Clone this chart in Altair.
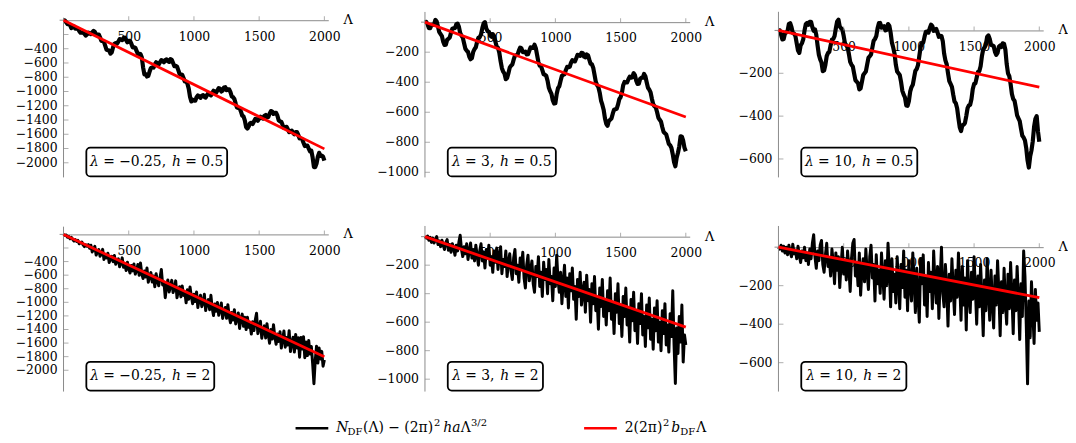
import altair as alt
import pandas as pd

# ---------------- data ----------------
X_TOP = list(range(0, 2001, 10))
X_BOT = list(range(0, 2001, 10))

# lambda=-0.25, h=0.5
Y1 = [0, -5, -30, -55, -55, -70, -110, -85, -90, -120,
      -120, -120, -150, -175, -175, -170, -190, -215, -200, -175,
      -185, -195, -170, -150, -165, -200, -200, -200, -240, -290,
      -290, -305, -360, -415, -420, -425, -470, -450, -380, -330,
      -320, -330, -300, -265, -270, -280, -250, -245, -280, -310,
      -290, -290, -330, -380, -380, -385, -430, -475, -470, -475,
      -520, -660, -760, -755, -790, -780, -720, -670, -660, -665,
      -620, -590, -600, -620, -590, -560, -570, -590, -560, -550,
      -575, -585, -545, -555, -600, -645, -640, -650, -700, -755,
      -760, -765, -810, -860, -860, -890, -960, -1075, -1140, -1115,
      -1130, -1130, -1080, -1055, -1070, -1090, -1060, -1050, -1075, -1085,
      -1050, -1025, -1040, -1055, -1020, -990, -1000, -1015, -985, -952,
      -960, -1000, -990, -945, -940, -980, -970, -970, -1010, -1070,
      -1080, -1105, -1170, -1225, -1230, -1235, -1280, -1340, -1350, -1405,
      -1500, -1520, -1490, -1445, -1440, -1455, -1420, -1385, -1390, -1410,
      -1380, -1355, -1370, -1380, -1340, -1330, -1360, -1360, -1310, -1275,
      -1280, -1315, -1300, -1300, -1340, -1405, -1420, -1425, -1470, -1510,
      -1500, -1495, -1530, -1570, -1560, -1550, -1580, -1600, -1570, -1570,
      -1610, -1660, -1660, -1670, -1720, -1765, -1760, -1760, -1800, -1840,
      -1830, -1925, -2060, -2060, -2010, -1915, -1860, -1905, -1900, -1915,
      -1970]
# lambda=3, h=0.5
Y2 = [0, 2, -15, -40, -40, -18, -20, -14, 15, 4,
      -30, -67, -80, -93, -130, -152, -150, -118, -110, -102,
      -70, -43, -40, -40, -15, -10, -30, -72, -90, -103,
      -140, -177, -190, -198, -230, -247, -240, -198, -180, -167,
      -130, -103, -100, -82, -40, -8, 0, -42, -60, -63,
      -90, -97, -80, -93, -130, -162, -170, -203, -260, -307,
      -330, -343, -380, -372, -340, -303, -290, -282, -250, -223,
      -220, -217, -190, -170, -175, -200, -200, -196, -215, -214,
      -190, -168, -170, -172, -150, -173, -220, -267, -290, -293,
      -320, -347, -350, -358, -390, -437, -460, -478, -520, -542,
      -540, -478, -440, -427, -390, -358, -350, -347, -320, -298,
      -300, -297, -270, -253, -260, -262, -240, -218, -220, -224,
      -205, -206, -230, -234, -215, -220, -250, -277, -280, -303,
      -350, -397, -420, -433, -470, -522, -550, -583, -640, -677,
      -690, -658, -650, -642, -610, -583, -580, -577, -550, -513,
      -500, -472, -420, -398, -400, -402, -380, -363, -370, -367,
      -340, -353, -390, -412, -410, -378, -370, -370, -345, -360,
      -400, -437, -450, -468, -510, -547, -560, -568, -600, -637,
      -650, -663, -700, -732, -740, -748, -780, -812, -820, -838,
      -880, -932, -960, -903, -870, -827, -760, -763, -790, -837,
      -860]
# lambda=10, h=0.5
Y3 = [0, 0, -20, -42, -40, -13, -10, -2, 30, 34,
      15, -12, -15, -26, -60, -94, -105, -70, -60, -42,
      0, 30, 35, 26, 40, 40, 15, -2, 5, -20,
      -70, -114, -135, -150, -190, -187, -160, -120, -105, -100,
      -70, -43, -40, -27, 10, 42, 50, 18, 10, 4,
      -25, -60, -70, -78, -110, -147, -160, -168, -200, -232,
      -240, -246, -275, -270, -240, -208, -200, -192, -160, -128,
      -120, -112, -80, -48, -40, -27, 10, 34, 35, 13,
      15, 20, 0, 3, 30, 22, -10, -57, -80, -108,
      -160, -192, -200, -208, -240, -282, -300, -313, -350, -352,
      -330, -286, -265, -254, -220, -188, -180, -162, -120, -78,
      -60, -57, -30, -6, -5, -10, 10, 27, 20, -2,
      0, 7, -10, -30, -25, -26, -50, -107, -140, -158,
      -200, -237, -250, -263, -300, -332, -340, -363, -410, -452,
      -470, -443, -440, -432, -400, -363, -350, -347, -320, -273,
      -250, -247, -220, -193, -190, -167, -120, -88, -80, -67,
      -30, -23, -40, -67, -70, -73, -100, -114, -105, -76,
      -70, -77, -60, -63, -90, -157, -200, -213, -250, -297,
      -320, -328, -360, -397, -410, -423, -460, -492, -500, -513,
      -550, -607, -640, -588, -560, -517, -450, -413, -400, -472,
      -520]
# lambda=-0.25, h=2
Y4 = [0, -14, -8, -42, -31, -65, -44, -73, -97, -76,
      -105, -89, -138, -122, -111, -155, -179, -153, -172, -151,
      -205, -159, -258, -217, -176, -305, -254, -223, -322, -291,
      -220, -369, -298, -347, -276, -415, -364, -323, -402, -311,
      -440, -389, -358, -477, -426, -345, -484, -433, -532, -411,
      -500, -569, -458, -537, -436, -585, -534, -443, -602, -421,
      -580, -649, -538, -627, -496, -705, -614, -563, -702, -611,
      -770, -579, -688, -757, -636, -515, -744, -703, -932, -761,
      -670, -849, -758, -677, -856, -795, -684, -933, -832, -771,
      -920, -759, -898, -847, -1006, -815, -954, -773, -912, -1021,
      -880, -989, -848, -1077, -956, -895, -1064, -1003, -882, -1121,
      -1000, -959, -1108, -897, -1086, -1195, -1024, -1133, -1002, -1191,
      -1110, -1009, -1238, -1127, -1076, -1235, -1034, -1203, -1302, -1151,
      -1260, -1109, -1318, -1227, -1156, -1385, -1234, -1173, -1352, -1221,
      -1400, -1219, -1368, -1327, -1466, -1285, -1414, -1263, -1162, -1461,
      -1370, -1279, -1528, -1417, -1346, -1525, -1314, -1473, -1602, -1401,
      -1540, -1329, -1508, -1617, -1466, -1575, -1434, -1673, -1542, -1421,
      -1660, -1519, -1628, -1417, -1726, -1595, -1514, -1733, -1472, -1671,
      -1520, -1809, -1518, -1687, -1506, -1815, -1584, -1783, -1562, -1761,
      -1650, -1899, -2198, -1857, -1646, -1895, -1674, -1833, -1722, -1941,
      -1850]
# lambda=3, h=2
Y5 = [0, -10, 5, -25, -5, -40, -10, -45, -20, 0,
      -55, -30, -70, -25, -60, -90, -40, -20, -95, -55,
      -110, -50, -80, -130, -60, -100, -40, 10, -90, -140,
      -70, -120, -50, -160, -100, -45, -150, -90, -170, -60,
      -130, -200, -100, -50, -170, -110, -220, -90, -150, -60,
      -200, -140, -250, -100, -180, -80, -230, -130, -70, -260,
      -160, -210, -100, -280, -180, -120, -240, -300, -150, -90,
      -260, -200, -320, -150, -220, -110, -290, -360, -200, -130,
      -310, -240, -170, -330, -390, -210, -280, -140, -350, -250,
      -420, -180, -300, -230, -400, -160, -330, -280, -450, -220,
      -350, -130, -300, -390, -250, -470, -320, -200, -420, -290,
      -500, -260, -380, -220, -440, -350, -580, -300, -420, -250,
      -480, -390, -320, -530, -270, -450, -370, -600, -330, -470,
      -280, -520, -430, -650, -360, -490, -300, -560, -440, -620,
      -380, -520, -290, -580, -460, -680, -400, -530, -330, -610,
      -480, -700, -420, -560, -360, -620, -510, -740, -440, -590,
      -390, -660, -520, -750, -470, -610, -400, -690, -560, -770,
      -480, -640, -430, -720, -580, -790, -500, -660, -450, -740,
      -600, -800, -520, -680, -470, -760, -620, -810, -540, -700,
      -380, -760, -1030, -640, -820, -560, -740, -480, -880, -690,
      -760]
# lambda=10, h=2
Y6 = [0, -10, 10, -20, 5, -30, 0, -40, 10, -25,
      -50, 15, -35, -15, -60, 5, -45, -80, -20, -55,
      0, -70, -30, -90, -10, -60, 20, 65, -50, -110,
      -20, -70, 10, 35, -90, -130, -40, 20, -100, -60,
      -150, -10, -80, -190, -30, -120, -50, -210, -90, 0,
      -140, -70, -170, -20, -110, -230, -60, 20, 40, -150,
      -80, -200, -30, -250, -120, -60, -180, -10, -130, -220,
      -50, 10, -160, -90, -280, -40, -190, -120, -240, -30,
      -150, -270, -70, -200, 20, -110, -310, -60, -230, -140,
      -290, -50, -180, -320, -90, -210, -20, -260, -120, -330,
      -70, -200, -280, -30, -170, -340, -110, -250, -390, -60,
      -190, -40, -300, -150, -360, -80, -230, -130, -320, -20,
      -180, -290, -100, -370, -160, 0, -240, -310, -90, -200,
      -410, -140, -280, -60, -220, -350, -120, -260, -30, -190,
      -380, -100, -300, -160, -430, -70, -250, -340, -130, -270,
      -50, -220, -400, -150, -310, -90, -260, -460, -170, -330,
      -60, -240, -380, -120, -280, -420, -150, -300, -70, -230,
      -460, -180, -340, -110, -290, -400, -140, -320, -80, -250,
      -450, -170, -330, -100, -270, -480, -190, -360, -20, -150,
      -400, -710, -280, -470, -180, -330, -500, -220, -380, -290,
      -440]

RED_X = [0, 2000]
RED_END = [-1805, -632, -265, -1803, -635, -262]

LAMBDAS = ["−0.25", "3", "10", "−0.25", "3", "10"]
HS = ["0.5", "0.5", "0.5", "2", "2", "2"]

X_TICKS = [500, 1000, 1500, 2000]
TICKS_A = [-200, -400, -600, -800, -1000, -1200, -1400, -1600, -1800, -2000]
LABELS_A = [-400, -600, -800, -1000, -1200, -1400, -1600, -1800, -2000]
TICKS_B = [-200, -400, -600, -800, -1000]
TICKS_C = [-200, -400, -600]

Y_DOMAINS = [[-2205, 118], [-1034, 69], [-686, 87],
             [-2314, 124], [-1087, 75], [-750, 110]]
Y_AXIS_TOP = [35, 68, 87, 114, 75, 110]

# ---------------- style / layout ----------------
FONT = "DejaVu Serif"
GRAY = "#8a8a8a"
W, H = 267, 167
X_DOMAIN = [0, 2030]
X_AXIS_START = -30
BOX_X = 23
BOX_W = [142, 109, 117, 129, 96, 106]
BOX_FS = 14
TICK_FS = 12.5
# approximate advance widths (em) of DejaVu Serif glyphs used in the boxes
EM = {" ": 0.318, "=": 0.838, "−": 0.838, ".": 0.318, ",": 0.318,
      "λ": 0.62, "h": 0.644}


def tw(s):
    return sum(EM.get(c, 0.636) for c in s) * BOX_FS


def make_panel(i, xs, ys, yticks, ylabels, sw):
    d0, d1 = Y_DOMAINS[i]
    y0px = H * d1 / (d1 - d0)
    xsc = alt.Scale(domain=X_DOMAIN, nice=False, zero=False)
    ysc = alt.Scale(domain=[d0, d1], nice=False, zero=False)

    xaxis = alt.Axis(orient="bottom", offset=y0px - H, values=X_TICKS, ticks=False,
                     labelPadding=10, domainColor=GRAY, domainWidth=1,
                     labelFont=FONT, labelFontSize=TICK_FS, labelColor="black",
                     title=None, grid=False, format="d", labelFlush=False,
                     labelOverlap=False)
    yaxis = alt.Axis(orient="left", labels=False, ticks=False, domain=False,
                     title=None, grid=False)

    assert len(xs) == len(ys)
    black = alt.Chart(pd.DataFrame({"x": xs, "y": ys})).mark_line(
        color="black", strokeWidth=sw, strokeJoin="round").encode(
        x=alt.X("x:Q", scale=xsc, axis=xaxis),
        y=alt.Y("y:Q", scale=ysc, axis=yaxis))

    axis_rule = alt.Chart(pd.DataFrame({"x": [0], "y": [Y_AXIS_TOP[i]], "y2": [d0]})).mark_rule(
        color=GRAY, strokeWidth=1).encode(x="x:Q", y="y:Q", y2="y2:Q")

    x_stub = alt.Chart(pd.DataFrame({"x": [X_AXIS_START], "x2": [0], "y": [0]})).mark_rule(
        color=GRAY, strokeWidth=1).encode(x="x:Q", x2="x2:Q", y="y:Q")

    xt = alt.Chart(pd.DataFrame({"x": X_TICKS, "y": [0] * len(X_TICKS)})).mark_tick(
        orient="vertical", size=4, thickness=1, yOffset=-2, color=GRAY).encode(
        x="x:Q", y="y:Q")

    ytk = alt.Chart(pd.DataFrame({"x": [0] * len(yticks), "y": yticks})).mark_tick(
        orient="horizontal", size=5, thickness=1, xOffset=2.5, color=GRAY).encode(
        x="x:Q", y="y:Q")

    ylab = alt.Chart(pd.DataFrame({"x": [0] * len(ylabels), "y": ylabels})).mark_text(
        font=FONT, fontSize=TICK_FS, align="right", baseline="middle", dx=-6,
        color="black").encode(x="x:Q", y="y:Q", text=alt.Text("y:Q", format="d"))

    red = alt.Chart(pd.DataFrame({"x": RED_X, "y": [0, RED_END[i]]})).mark_line(
        color="#ff0000", strokeWidth=2.8).encode(x="x:Q", y="y:Q")

    one = pd.DataFrame({"k": [0]})
    bw = BOX_W[i]
    box = alt.Chart(one).mark_rect(fill="white", stroke="black", strokeWidth=1.8,
                                   cornerRadius=4).encode(
        x=alt.value(BOX_X), x2=alt.value(BOX_X + bw),
        y=alt.value(H - 30), y2=alt.value(H - 1))

    sp = EM[" "] * BOX_FS
    parts = [("λ", "italic", 0), ("= " + LAMBDAS[i] + ",", "normal", sp),
             ("h", "italic", sp * 1.3), ("= " + HS[i], "normal", sp)]
    total = sum(tw(s) + g for s, _, g in parts)
    cx = BOX_X + bw / 2 - total / 2
    texts = []
    for s, st, g in parts:
        cx += g
        texts.append(alt.Chart(one).mark_text(
            text=s, font=FONT, fontSize=BOX_FS, fontStyle=st, align="left",
            baseline="middle", color="black").encode(
            x=alt.value(cx), y=alt.value(H - 15.5)))
        cx += tw(s)

    lam = alt.Chart(pd.DataFrame({"y": [0]})).mark_text(
        text="Λ", font=FONT, fontSize=13, align="center", baseline="middle",
        color="black").encode(x=alt.value(W + 20), y="y:Q")

    return alt.layer(black, axis_rule, x_stub, xt, ytk, ylab, red, box, *texts, lam).properties(
        width=W, height=H)


p = [
    make_panel(0, X_TOP, Y1, TICKS_A, LABELS_A, 4.2),
    make_panel(1, X_TOP, Y2, TICKS_B, TICKS_B, 4.2),
    make_panel(2, X_TOP, Y3, TICKS_C, TICKS_C, 4.2),
    make_panel(3, X_BOT, Y4, TICKS_A, LABELS_A, 3.0),
    make_panel(4, X_BOT, Y5, TICKS_B, TICKS_B, 3.0),
    make_panel(5, X_BOT, Y6, TICKS_C, TICKS_C, 3.0),
]

COL_GAP = 23.5
row1 = alt.hconcat(p[0], p[1], p[2], spacing=COL_GAP)
row2 = alt.hconcat(p[3], p[4], p[5], spacing=COL_GAP)

# ---------------- legend ----------------
one = pd.DataFrame({"k": [0]})
LB = 18    # baseline inside legend strip
LX = 1     # horizontal shift of the legend strip


def seg(x, s, size=14, style="normal", dy=0):
    return alt.Chart(one).mark_text(text=s, font=FONT, fontSize=size, fontStyle=style,
                                    align="left", baseline="alphabetic",
                                    color="black").encode(
        x=alt.value(LX + x), y=alt.value(LB + dy))


def legline(x1, x2, color):
    return alt.Chart(one).mark_rule(color=color, strokeWidth=2.6).encode(
        x=alt.value(LX + x1), x2=alt.value(LX + x2), y=alt.value(LB - 4))


legend = alt.layer(
    legline(233, 266, "black"),
    seg(274, "N", style="italic"),
    seg(285.5, "DF", size=10, dy=3),
    seg(301, "(Λ) − (2π)"),
    seg(372.5, "2", size=10, dy=-6),
    seg(382, "ha", style="italic"),
    seg(399.5, "Λ"),
    seg(410, "3/2", size=10, dy=-6),
    legline(524, 557, "#ff0000"),
    seg(565, "2(2π)"),
    seg(603.5, "2", size=10, dy=-6),
    seg(612, "b", style="italic"),
    seg(621, "DF", size=10, dy=3),
    seg(637, "Λ"),
).properties(width=720, height=20)

grid = alt.vconcat(row1, row2, spacing=46)
chart = alt.vconcat(grid, legend, spacing=22).properties(
    padding={"left": 7, "top": 1, "right": 0, "bottom": 0}
).configure_view(stroke=None)

chart.save("out.html", embed_options={"renderer": "svg", "actions": False})
